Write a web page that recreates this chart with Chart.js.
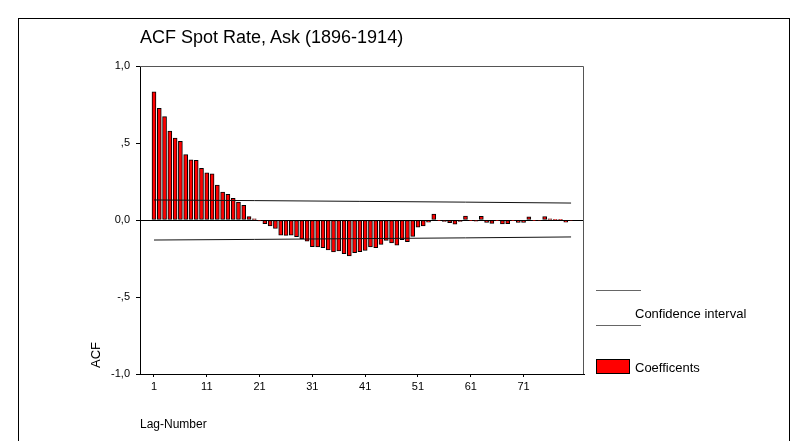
<!DOCTYPE html>
<html>
<head>
<meta charset="utf-8">
<script src="https://cdn.jsdelivr.net/npm/chart.js@4/dist/chart.umd.min.js"></script>
<style>
  body { margin: 0; background: #fff; }
  #wrap { position: relative; width: 807px; height: 441px; overflow: hidden; font-family: "Liberation Sans", Arial, sans-serif; color: #000; }
  #frame { position: absolute; left: 18px; top: 18px; width: 770px; height: 440px; border: 1px solid #000; }
  canvas { position: absolute; left: 0; top: 0; }
  .txt { position: absolute; white-space: nowrap; }
  #title { left: 140px; top: 28px; font-size: 18px; line-height: 18px; }
  #ytitle { font-size: 13px; line-height: 14px; height: 14px; width: 30px; text-align: center; left: 81px; top: 348px; transform: rotate(-90deg); transform-origin: 15px 7px; color: #000; }
  .legline { position: absolute; left: 596px; width: 45px; height: 0; border-top: 1px solid #666; }
  #legbox { position: absolute; left: 596px; top: 359px; width: 34px; height: 15px; box-sizing: border-box; border: 1px solid #000; background: #ff0000; }
  .legtxt { font-size: 13px; line-height: 13px; left: 635px; }
</style>
</head>
<body>
<div id="wrap">
  <div id="frame"></div>
  <canvas id="c" width="807" height="441"></canvas>
  <div class="txt" id="title">ACF Spot Rate, Ask (1896-1914)</div>
  <div class="txt" id="ytitle">ACF</div>
  <div class="legline" style="top:290px"></div>
  <div class="txt legtxt" style="top:307px">Confidence interval</div>
  <div class="legline" style="top:325px"></div>
  <div id="legbox"></div>
  <div class="txt legtxt" style="top:361px">Coefficents</div>
</div>
<script>
const lags = [1,2,3,4,5,6,7,8,9,10,11,12,13,14,15,16,17,18,19,20,
  21,22,23,24,25,26,27,28,29,30,31,32,33,34,35,36,37,38,39,40,
  41,42,43,44,45,46,47,48,49,50,51,52,53,54,55,56,57,58,59,60,
  61,62,63,64,65,66,67,68,69,70,71,72,73,74,75,76,77,78,79,80];
const acfValues = [0.833,0.725,0.671,0.578,0.532,0.511,0.424,0.390,0.388,0.336,
  0.307,0.299,0.227,0.182,0.166,0.140,0.116,0.095,0.022,0.008,
  -0.006,-0.024,-0.038,-0.055,-0.099,-0.100,-0.099,-0.108,-0.123,-0.138,
  -0.173,-0.175,-0.180,-0.195,-0.208,-0.200,-0.218,-0.233,-0.212,-0.205,
  -0.198,-0.175,-0.180,-0.158,-0.132,-0.149,-0.164,-0.128,-0.141,-0.106,
  -0.046,-0.039,-0.014,0.038,-0.004,-0.010,-0.018,-0.027,-0.010,0.026,
  -0.004,-0.008,0.024,-0.015,-0.022,-0.005,-0.026,-0.024,-0.004,-0.015,
  -0.015,0.021,-0.004,-0.003,0.023,0.008,0.005,0.004,-0.014,-0.003];
const ciLags = [1, 20, 40, 60, 80];
const ciUpper = [0.130, 0.126, 0.121, 0.116, 0.110];
const ciLower = [-0.130, -0.126, -0.121, -0.116, -0.110];
const xTickValues = [1, 11, 21, 31, 41, 51, 61, 71];
const yTickValues = [-1, -0.5, 0, 0.5, 1];
const yTickLabels = ['-1,0', '-,5', '0,0', ',5', '1,0'];

const FONT = '"Liberation Sans", Arial, sans-serif';

const plotFrame = {
  id: 'plotFrame',
  afterDatasetsDraw(chart) {
    const { ctx, chartArea: a } = chart;
    ctx.save();
    ctx.strokeStyle = '#555';
    ctx.lineWidth = 1;
    ctx.beginPath();
    ctx.moveTo(a.left, a.top + 0.5);
    ctx.lineTo(a.right - 0.5, a.top + 0.5);
    ctx.lineTo(a.right - 0.5, a.bottom);
    ctx.stroke();
    ctx.restore();
  }
};

new Chart(document.getElementById('c'), {
  type: 'bar',
  data: {
    datasets: [
      {
        type: 'line', label: 'Confidence interval upper',
        data: ciLags.map((l, i) => ({ x: l, y: ciUpper[i] })),
        borderColor: '#111', borderWidth: 1, pointRadius: 0, fill: false, tension: 0, order: 0
      },
      {
        type: 'line', label: 'Confidence interval lower',
        data: ciLags.map((l, i) => ({ x: l, y: ciLower[i] })),
        borderColor: '#111', borderWidth: 1, pointRadius: 0, fill: false, tension: 0, order: 0
      },
      {
        type: 'bar', label: 'Coefficents',
        data: lags.map((l, i) => ({ x: l, y: acfValues[i] })),
        backgroundColor: '#ff0000', borderColor: '#000', borderWidth: 1,
        borderSkipped: false, barThickness: 4, order: 1
      }
    ]
  },
  options: {
    responsive: false,
    animation: false,
    devicePixelRatio: 1,
    layout: { padding: { top: 66, right: 223, left: 0, bottom: 0 } },
    plugins: { legend: { display: false }, tooltip: { enabled: false } },
    scales: {
      x: {
        type: 'linear', min: -1.65, max: 82.45, offset: false,
        afterBuildTicks(s) { s.ticks = xTickValues.map(v => ({ value: v })); },
        afterFit(s) { s.height = 67; },
        grid: { drawOnChartArea: false, tickLength: 3, tickColor: '#000', offset: false },
        border: { color: '#000' },
        ticks: { font: { size: 11, family: FONT }, color: '#000', padding: 3, maxRotation: 0, autoSkip: false,
          callback: v => String(v) },
        title: { display: true, text: 'Lag-Number', align: 'start', color: '#000',
          font: { size: 12, family: FONT }, padding: { top: 0, bottom: 9 } }
      },
      y: {
        min: -1, max: 1,
        afterBuildTicks(s) { s.ticks = yTickValues.map(v => ({ value: v })); },
        afterFit(s) { s.width = 140; },
        grid: {
          color: c => (c.tick && c.tick.value === 0) ? '#000' : 'rgba(0,0,0,0)',
          tickColor: '#000', tickLength: 4
        },
        border: { color: '#000' },
        ticks: { font: { size: 11, family: FONT }, color: '#000', padding: 6,
          callback: v => { const i = yTickValues.indexOf(v); return i >= 0 ? yTickLabels[i] : ''; } }
      }
    }
  },
  plugins: [plotFrame]
});
</script>
</body>
</html>
